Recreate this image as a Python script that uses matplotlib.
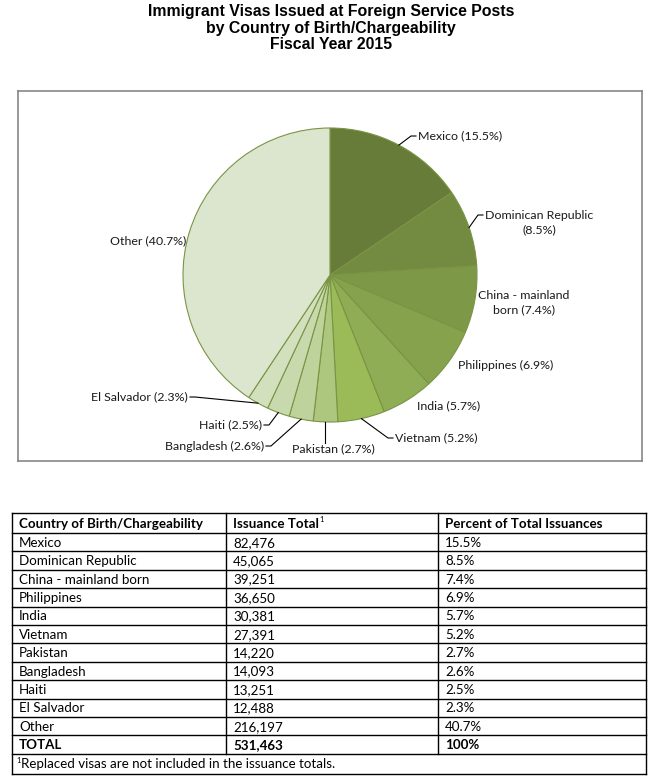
import matplotlib
matplotlib.use("Agg")
import matplotlib.pyplot as plt
import numpy as np

# ---------------- data ----------------
countries = ["Mexico", "Dominican Republic", "China - mainland born", "Philippines",
             "India", "Vietnam", "Pakistan", "Bangladesh", "Haiti", "El Salvador", "Other"]
issuances = [82476, 45065, 39251, 36650, 30381, 27391, 14220, 14093, 13251, 12488, 216197]
percents = ["15.5%", "8.5%", "7.4%", "6.9%", "5.7%", "5.2%", "2.7%", "2.6%", "2.5%", "2.3%", "40.7%"]
total_issuance = 531463
total_percent = "100%"
colors = ["#687C3A", "#728B40", "#7D9847", "#86A24D", "#8FAD55", "#9BBB59",
          "#AEC77F", "#BDD39B", "#C8DAAD", "#D2E0BE", "#DCE6CF"]
title_lines = ["Immigrant Visas Issued at Foreign Service Posts",
               "by Country of Birth/Chargeability", "Fiscal Year 2015"]
table_headers = ["Country of Birth/Chargeability", "Issuance Total", "Percent of Total Issuances"]
footnote = "Replaced visas are not included in the issuance totals."

W, H = 665, 781
fig = plt.figure(figsize=(W / 100, H / 100), dpi=100)

# ---------------- pie ----------------
box_l, box_r, box_t, box_b = 18, 642, 91, 461
cx, cy, R = 330, 275, 147
pax = fig.add_axes([box_l / W, 1 - box_b / H, (box_r - box_l) / W, (box_b - box_t) / H])
wedges, _ = pax.pie(issuances, colors=colors, startangle=90, counterclock=False,
                    radius=1.0, center=(0, 0), frame=True,
                    wedgeprops=dict(edgecolor="#7A9444", linewidth=0.8))
pax.set_xlim((box_l - cx) / R, (box_r - cx) / R)
pax.set_ylim((cy - box_b) / R, (cy - box_t) / R)
pax.set_aspect("auto")
pax.set_xticks([])
pax.set_yticks([])
for s in pax.spines.values():
    s.set_edgecolor("#868686")
    s.set_linewidth(1.2)

# overlay axes in pixel coordinates (transparent, on top)
bg = fig.add_axes([0, 0, 1, 1])
bg.set_xlim(0, W)
bg.set_ylim(H, 0)
bg.axis("off")
bg.set_zorder(10)
bg.patch.set_alpha(0)

# title
for i, t in enumerate(title_lines):
    bg.text(331, 11.5 + i * 16.5, t, ha="center", va="center", fontsize=11.4,
            fontweight="bold", family="Liberation Sans")

# label layout (pixel positions)
label_layout = {
    "Mexico": dict(text="Mexico ({})", x=418, y=136, ha="left", leader=True),
    "Dominican Republic": dict(text="Dominican Republic\n({})", x=539, y=223, ha="center",
                               leader=True, lx=483, ly=215),
    "China - mainland born": dict(text="China - mainland\nborn ({})", x=524, y=303, ha="center", leader=False),
    "Philippines": dict(text="Philippines ({})", x=458, y=365, ha="left", leader=False),
    "India": dict(text="India ({})", x=417, y=406, ha="left", leader=False),
    "Vietnam": dict(text="Vietnam ({})", x=395, y=438, ha="left", leader=True),
    "Pakistan": dict(text="Pakistan ({})", x=333, y=449, ha="center", leader=True, vertical=True),
    "Bangladesh": dict(text="Bangladesh ({})", x=264, y=446, ha="right", leader=True),
    "Haiti": dict(text="Haiti ({})", x=262, y=425, ha="right", leader=True),
    "El Salvador": dict(text="El Salvador ({})", x=188, y=397, ha="right", leader=True),
    "Other": dict(text="Other ({})", x=186, y=241, ha="right", leader=False),
}

to_px = lambda p: bg.transData.inverted().transform(pax.transData.transform(p))

for w, name, pct in zip(wedges, countries, percents):
    L = label_layout[name]
    bg.text(L["x"], L["y"], L["text"].format(pct), ha=L["ha"], va="center",
            fontsize=8.9, family="Lato", color="#1a1a1a", linespacing=1.35)
    if not L["leader"]:
        continue
    mid = np.deg2rad((w.theta1 + w.theta2) / 2)
    ex, ey = to_px((np.cos(mid), np.sin(mid)))
    if L.get("vertical"):
        bg.plot([ex, ex], [ey, L["y"] - 6], color="black", lw=0.8)
        continue
    lx = L.get("lx", L["x"] - 2)
    ly = L.get("ly", L["y"])
    if L["ha"] == "right":
        lx = L["x"] + 2
        elbow = lx + 5
    else:
        elbow = lx - 5
    bg.plot([ex, elbow, lx], [ey, ly, ly], color="black", lw=0.8)

# ---------------- table ----------------
col_x = [12, 226, 438, 646]
top = 513
header_h = 20
row_h = 18.4
rows = [[c, f"{v:,}", p] for c, v, p in zip(countries, issuances, percents)]
rows.append(["TOTAL", f"{total_issuance:,}", total_percent])
n = len(rows)
y_lines = [top, top + header_h] + [top + header_h + row_h * (i + 1) for i in range(n)]
foot_bottom = y_lines[-1] + 20
lw = 1.0
for y in y_lines + [foot_bottom]:
    bg.plot([col_x[0], col_x[-1]], [y, y], color="black", lw=lw, solid_capstyle="projecting")
for x in [col_x[0], col_x[-1]]:
    bg.plot([x, x], [top, foot_bottom], color="black", lw=lw)
for x in col_x[1:-1]:
    bg.plot([x, x], [top, y_lines[-1]], color="black", lw=lw)

fs = 9.6
renderer = fig.canvas.get_renderer()
for j, h in enumerate(table_headers):
    t = bg.text(col_x[j] + 7, top + header_h / 2 + 0.5, h, ha="left", va="center",
                fontsize=fs, fontweight="bold", family="Lato")
    if j == 1:
        bb = t.get_window_extent(renderer=renderer)
        xr = bg.transData.inverted().transform((bb.x1, bb.y1))[0]
        bg.text(xr + 1, top + header_h / 2 - 4, "1", ha="left", va="center",
                fontsize=5.5, family="Lato")
for i, r in enumerate(rows):
    yc = top + header_h + row_h * (i + 0.5) + 0.5
    bold = r[0] == "TOTAL"
    for j, val in enumerate(r):
        bg.text(col_x[j] + 7, yc, val, ha="left", va="center", fontsize=fs,
                fontweight="bold" if bold else "normal", family="Lato")
fy = (y_lines[-1] + foot_bottom) / 2 + 0.5
bg.text(col_x[0] + 4, fy - 4, "1", ha="left", va="center", fontsize=5.5, family="Lato")
bg.text(col_x[0] + 9, fy, footnote, ha="left", va="center", fontsize=fs, family="Lato")

fig.savefig("out.png", dpi=100)
